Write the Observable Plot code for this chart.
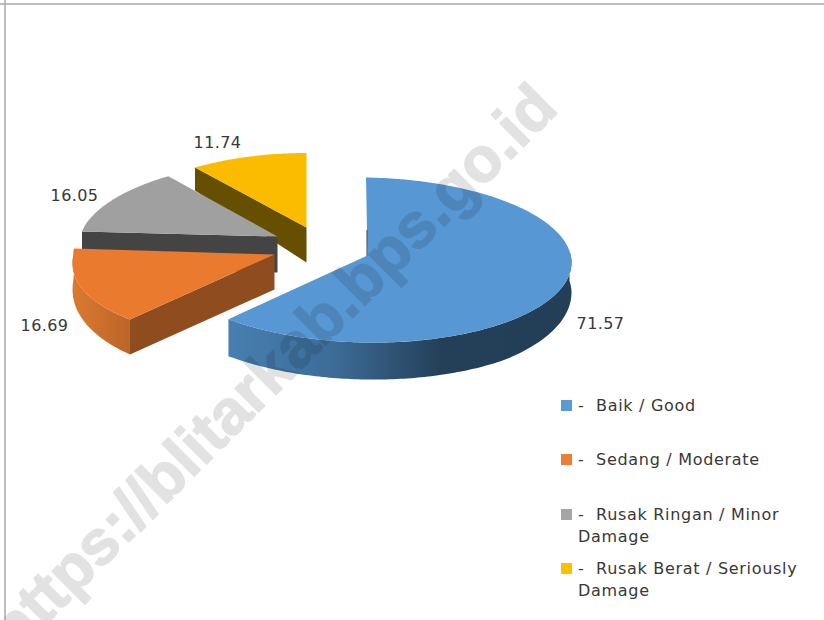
<!DOCTYPE html>
<html>
<head>
<meta charset="utf-8">
<script src="https://cdn.jsdelivr.net/npm/d3@7"></script>
<script src="https://cdn.jsdelivr.net/npm/@observablehq/plot@0.6"></script>
<style>
html,body{margin:0;padding:0;background:#fff}
svg{display:block;background:#fff}
</style>
</head>
<body>
<div id="chart"></div>
<script>
// Data
const categories = ["Baik / Good", "Sedang / Moderate", "Rusak Ringan / Minor\nDamage", "Rusak Berat / Seriously\nDamage"];
const values = [71.57, 16.69, 16.05, 11.74];
const watermark = "https://blitarkab.bps.go.id";

// Styling
const topColors = ["#5797d3", "#e97a2e", "#a0a0a0", "#fbbc00"];
const faceColors = ["#233e57", "#8f4c1e", "#444444", "#664f00"];
const legendColors = ["#5b9bd5", "#ed7d31", "#a5a5a8", "#ffc000"];

// Pseudo-3D camera fit for each exploded slice
const cams = [
  {ax:367,ay:255,cx:365.5,cy:259,rx:205.5,ryF:83,ryB:82,kF:0,kB:0,skew:3,dRim0:30,dRim1:37,dFace:0,rim:[82,null],wall:"url(#wallBlue)",lab:[233,68]},
  {ax:274,ay:254,cx:274,cy:254,rx:201,ryF:87.5,ryB:90,kF:0.1,kB:0,skew:0,dRim0:25,dRim1:35,dFace:35,rim:[null,null],wall:"url(#wallOrange)",lab:[-230,71]},
  {ax:277,ay:236,cx:277,cy:236,rx:197,ryF:75,ryB:75,kF:0,kB:0.083,skew:0,dRim0:36,dRim1:36,dFace:36,lab:[-203,-41]},
  {ax:306,ay:227,cx:306,cy:227,rx:199,ryF:74,ryB:74.5,kF:0,kB:0.07,skew:0,dRim0:23,dRim1:23,dFace:35,lab:[-89,-85]}
];

const arcs = d3.pie().sort(null)(values);
const deg = r => r * 180 / Math.PI;

function rim(c, a) {
  const t = a * Math.PI / 180, u = Math.sin(t), v = -Math.cos(t);
  const k = v > 0 ? 1 + c.kF * v : 1 + c.kB * v;
  return {
    x: c.cx + c.rx * u * k,
    y: c.cy + (v > 0 ? c.ryF : c.ryB) * v + c.skew * u,
    d: c.dRim0 + (c.dRim1 - c.dRim0) * Math.max(0, Math.min(1, v / 0.743))
  };
}
function sweep(c, a0, a1) {
  const n = Math.ceil(Math.abs(a1 - a0));
  return d3.range(n + 1).map(i => rim(c, a0 + (a1 - a0) * i / n));
}

const layers = [];
for (const i of [3, 2, 1, 0]) {
  const c = cams[i], a0 = deg(arcs[i].startAngle), a1 = deg(arcs[i].endAngle);
  if (c.dFace) {
    const p = rim(c, a0);
    layers.push({fill: faceColors[i], pts: [
      {x:p.x, y:p.y}, {x:c.ax, y:c.ay}, {x:c.ax, y:c.ay + c.dFace}, {x:p.x, y:p.y + p.d}
    ]});
  }
  if (c.rim) {
    const from = c.rim[0] ?? a0, to = c.rim[1] ?? a1;
    const top = sweep(c, from, to);
    layers.push({fill: c.wall, pts: [...top, ...top.slice().reverse().map(p => ({x:p.x, y:p.y + p.d}))]});
  }
  layers.push({fill: topColors[i], pts: [{x:c.ax, y:c.ay}, ...sweep(c, a0, a1)]});
}

function gradient(id, x1, x2, stops) {
  const g = document.createElementNS("http://www.w3.org/2000/svg", "linearGradient");
  g.setAttribute("id", id);
  g.setAttribute("gradientUnits", "userSpaceOnUse");
  g.setAttribute("x1", x1); g.setAttribute("x2", x2);
  g.setAttribute("y1", 0); g.setAttribute("y2", 0);
  for (const [o, col] of stops) {
    const s = document.createElementNS("http://www.w3.org/2000/svg", "stop");
    s.setAttribute("offset", o); s.setAttribute("stop-color", col);
    g.appendChild(s);
  }
  return g;
}
const defsMark = () => {
  const defs = document.createElementNS("http://www.w3.org/2000/svg", "defs");
  defs.appendChild(gradient("wallBlue", 229, 571, [[0,"#477fb0"],[0.3,"#3c6c98"],[0.62,"#243f58"],[1,"#233e57"]]));
  defs.appendChild(gradient("wallOrange", 73, 131, [[0,"#d97a30"],[1,"#bb6428"]]));
  return defs;
};

const labelData = values.map((v, i) => ({
  text: v.toFixed(2), x: cams[i].ax + cams[i].lab[0], y: cams[i].ay + cams[i].lab[1]
}));
const legendRows = [405, 459, 514, 568];
const legendData = categories.map((t, i) => ({
  text: "-\u00a0\u00a0" + t, color: legendColors[i], y: legendRows[i]
}));
const font = "'DejaVu Sans', sans-serif";

const chart = Plot.plot({
  width: 824, height: 620, margin: 0,
  x: {domain: [0, 824], range: [0, 824], axis: null},
  y: {domain: [0, 620], range: [0, 620], axis: null},
  marks: [
    defsMark,
    Plot.ruleY([3.5], {stroke: "#a8a8a8", strokeWidth: 1.5}),
    Plot.ruleX([4.5], {stroke: "#a8a8a8", strokeWidth: 1.5}),
    ...layers.map(l => Plot.line(l.pts, {x: "x", y: "y", fill: l.fill, stroke: "none"})),
    Plot.line([{x:366.5,y:230},{x:366.5,y:255}], {x:"x", y:"y", stroke:"#233e57", strokeWidth:1}),
    Plot.text(labelData, {x:"x", y:"y", text:"text", fontSize:16, fontFamily:font, fill:"#383838"}),
    Plot.dot(legendData, {x:() => 566, y:"y", symbol:"square", r:6.2, fill:"color", stroke:"none"}),
    Plot.text(legendData, {x:() => 577.5, y:d => d.y - 10, text:"text", textAnchor:"start", lineAnchor:"top", lineHeight:1.38, fontSize:16, fontFamily:font, fill:"#383838"}),
    Plot.text([watermark], {x:() => 273, y:() => 368, text:d => d, rotate:-45, fontSize:63, fontWeight:"bold", fontFamily:"'Liberation Sans', sans-serif", fill:"#000", stroke:"#000", strokeWidth:1.5, opacity:0.11})
  ]
});
d3.select(chart).selectAll("text").each(function () {
  const t = this.textContent;
  if (t.startsWith("http")) return;
  this.style.letterSpacing = t.startsWith("-") ? "0.7px" : "0.4px";
});
document.getElementById("chart").appendChild(chart);
</script>
</body>
</html>
